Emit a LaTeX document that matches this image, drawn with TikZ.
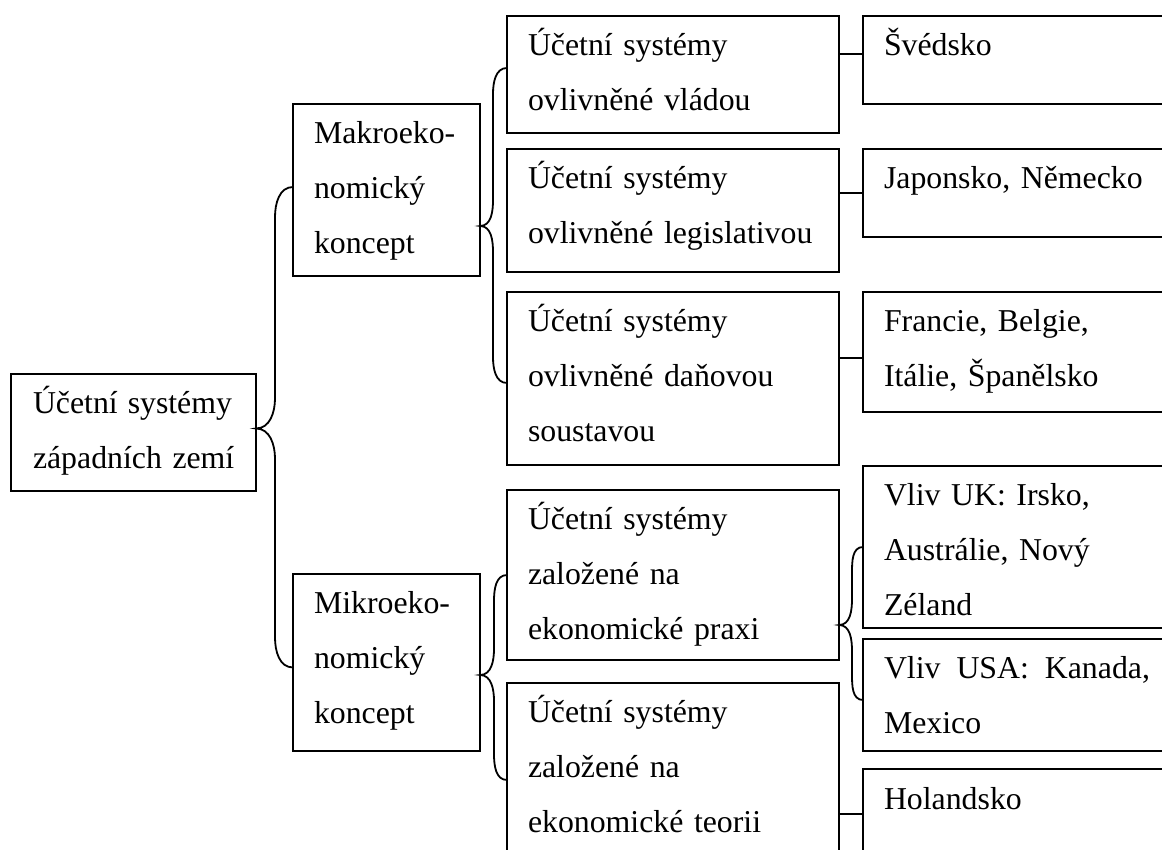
\documentclass[tikz,border=0pt]{standalone}
\usepackage{fontspec}
\setmainfont{Liberation Serif}
\usetikzlibrary{calc}
\tikzset{
  conn/.style={line width=1.8pt, line cap=round},
  boxnode/.style={draw, line width=1.8pt, anchor=north west, outer sep=0pt,
    inner xsep=21pt, inner ysep=0pt, align=left,
    font=\fontsize{31.8}{55}\selectfont, text height=40pt},
}
\newcommand\bracecon[5]{%
  \draw[conn] let \p1=#1, \p2=#2, \p3=#3 in
    #1 to[out=180,in=90] ({\x2+#4},{\y1-#5})
    -- ({\x2+#4},{\y2+#5}) to[out=-90,in=0] #2
    to[out=0,in=90] ({\x2+#4},{\y2-#5})
    -- ({\x2+#4},{\y3+#5}) to[out=-90,in=180] #3;}
\begin{document}
\begin{tikzpicture}[x=1pt,y=1pt]
\useasboundingbox (0,0) rectangle (1162,849);
\fill[white] (0,0) rectangle (1162,849);
\clip (0,0) rectangle (1162,849);
% level 0
\node[boxnode, inner xsep=20pt, text width=205pt, text depth=77pt] (root) at (11,475)
  {\hspace*{2pt}\hbox to 199pt{Účetní\hfil systémy}\\\hspace*{2pt}\mbox{západních zemí}};
% level 1
\node[boxnode, text width=145pt, text depth=132pt] (makro) at (293,745)
  {Makroeko-\\nomický\\koncept};
\node[boxnode, text width=145pt, text depth=137pt] (mikro) at (293,275)
  {Mikroeko-\\nomický\\koncept};
% level 2
\node[boxnode, text width=290pt, text depth=77pt] (b1) at (507,833)
  {Účetní systémy\\ovlivněné vládou};
\node[boxnode, text width=290pt, text depth=83pt] (b2) at (507,700)
  {Účetní systémy\\ovlivněné legislativou};
\node[boxnode, text width=290pt, text depth=133pt] (b3) at (507,557)
  {Účetní systémy\\ovlivněné daňovou\\soustavou};
\node[boxnode, text width=290pt, text depth=130pt] (b4) at (507,359)
  {Účetní systémy\\založené na\\ekonomické praxi};
\node[boxnode, text width=290pt, text depth=150pt] (b5) at (507,166)
  {Účetní systémy\\založené na\\ekonomické teorii};
% level 3
\node[boxnode, text width=268pt, text depth=48pt] (c1) at (863,833) {Švédsko};
\node[boxnode, text width=268pt, text depth=48pt] (c2) at (863,700) {Japonsko, Německo};
\node[boxnode, text width=268pt, text depth=80pt] (c3) at (863,557)
  {Francie, Belgie,\\Itálie, Španělsko};
\node[boxnode, text width=268pt, text depth=122pt] (c4) at (863,383)
  {Vliv UK: Irsko,\\Austrálie, Nový\\Zéland};
\node[boxnode, text width=268pt, text depth=72pt] (c5) at (863,210)
  {\hbox to 266pt{Vliv\hfil USA:\hfil Kanada,}\\Mexico};
\node[boxnode, text width=268pt, text depth=70pt] (c6) at (863,80) {Holandsko};
% braces
\bracecon{([yshift=3pt]makro.west)}{([yshift=4pt]root.east)}{([yshift=-5pt]mikro.west)}{19pt}{30pt}
\bracecon{([yshift=6.5pt]b1.west)}{([yshift=-36pt]makro.east)}{([yshift=-4.5pt]b3.west)}{13pt}{26pt}
\bracecon{(b4.west)}{([yshift=-12.5pt]mikro.east)}{([yshift=-2pt]b5.west)}{14pt}{26pt}
\bracecon{(c4.west)}{([yshift=-50pt]b4.east)}{([yshift=-5pt]c5.west)}{13pt}{26pt}
% straight connectors
\draw[conn] ([yshift=6pt]c1.west) -- ([yshift=6pt]c1.west -| b1.east);
\draw[conn] (c2.west) -- (c2.west -| b2.east);
\draw[conn] ([yshift=-6pt]c3.west) -- ([yshift=-6pt]c3.west -| b3.east);
\draw[conn] ([yshift=10pt]c6.west) -- ([yshift=10pt]c6.west -| b5.east);
\end{tikzpicture}
\end{document}
